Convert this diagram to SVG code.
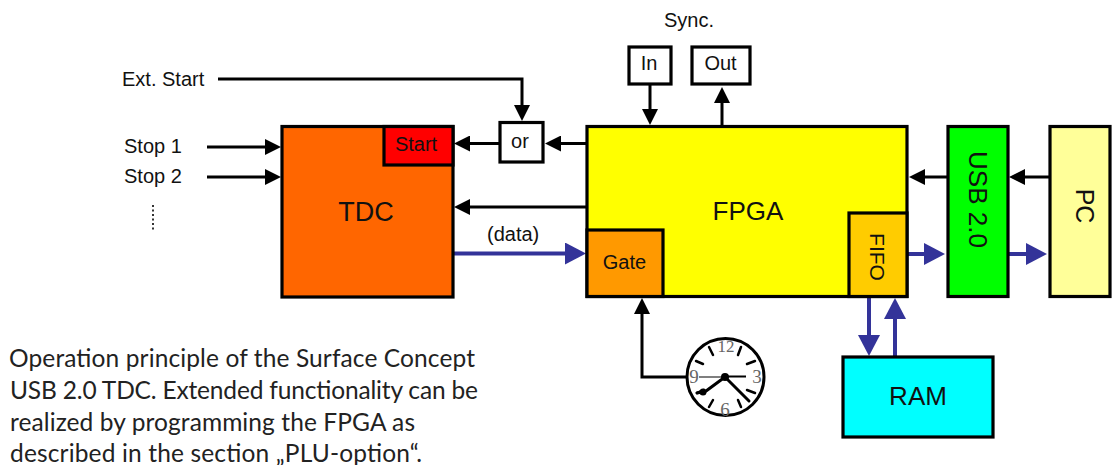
<svg xmlns="http://www.w3.org/2000/svg" width="1116" height="465" viewBox="0 0 1116 465">
<defs>
<marker id="ab" markerUnits="userSpaceOnUse" markerWidth="17" markerHeight="16" refX="8" refY="8" orient="auto"><path d="M0 0L16 8L0 16Z" fill="#000"/></marker>
<marker id="ub" markerUnits="userSpaceOnUse" markerWidth="22" markerHeight="22" refX="10" refY="11" orient="auto"><path d="M0 0L21 11L0 22Z" fill="#333399"/></marker>
</defs>
<style>
text{font-family:"Liberation Sans",Arial,sans-serif;fill:#111}
.b{stroke:#000;stroke-width:3.2}
.k{fill:none;stroke:#000;stroke-width:3;marker-end:url(#ab)}
.u{fill:none;stroke:#333399;stroke-width:4;marker-end:url(#ub)}
.l{font-size:20px}
.m{font-size:26px;text-anchor:middle}
.s{font-size:20px;text-anchor:middle}
.c{font-family:Lato,"Open Sans",sans-serif;font-size:24.5px;fill:#222}
.h{stroke:#000;stroke-width:3;stroke-linecap:round;fill:none}
.t{stroke:#000;stroke-width:2.5;stroke-linecap:round}
.n{font-family:"Liberation Serif",serif;font-size:19px;fill:#666;text-anchor:middle}
</style>
<g id="connectors">
<path class="k" d="M218 79H522V113"/>
<path class="k" d="M207 147H273"/>
<path class="k" d="M207 177H273"/>
<path class="k" d="M499 143.500H462"/>
<path class="k" d="M587 143.500H553"/>
<path class="k" d="M587 207H462"/>
<path class="k" d="M650 85V117"/>
<path class="k" d="M722 126V95"/>
<path class="k" d="M948 177H917"/>
<path class="k" d="M1050 177H1017"/>
<path class="k" d="M686 377H642V306"/>
<path class="u" d="M453 253.500H575"/>
<path class="u" d="M908 254H934"/>
<path class="u" d="M1008 254H1036"/>
<path class="u" d="M869 298V345"/>
<path class="u" d="M895 356V309"/>
</g>
<g id="tdc"><rect class="b" x="282" y="126.500" width="171" height="170.500" fill="#ff6600"/><text class="m" x="366" y="221" style="font-size:27px">TDC</text></g>
<g id="start"><rect class="b" x="384" y="126.500" width="69" height="38.500" fill="#ff0000"/><text class="s" x="416" y="151">Start</text></g>
<g id="or"><rect class="b" x="500" y="122.500" width="43" height="39.500" fill="#fff"/><text class="s" x="520" y="148">or</text></g>
<g id="fpga"><rect class="b" x="587" y="126.500" width="320" height="170" fill="#ffff00"/><text class="m" x="748" y="220">FPGA</text></g>
<g id="gate"><rect class="b" x="587" y="230" width="76" height="66.500" fill="#ff9900"/><text class="s" x="624.500" y="269">Gate</text></g>
<g id="fifo"><rect class="b" x="849" y="213" width="58" height="83.500" fill="#ffcc00"/><text class="s" transform="translate(870 257) rotate(90)" style="font-size:21px">FIFO</text></g>
<g id="usb"><rect class="b" x="948" y="126.500" width="60" height="170" fill="#00ff00"/><text class="m" transform="translate(969 199.500) rotate(90)">USB 2.0</text></g>
<g id="pc"><rect class="b" x="1050" y="126.500" width="60" height="170" fill="#ffff99"/><text class="m" transform="translate(1076 206) rotate(90)" style="font-size:25px">PC</text></g>
<g id="in"><rect class="b" x="629" y="47" width="42" height="37" fill="#fff"/><text class="s" x="649" y="70">In</text></g>
<g id="out"><rect class="b" x="692" y="47" width="58" height="37" fill="#fff"/><text class="s" x="720.500" y="70">Out</text></g>
<g id="ram"><rect class="b" x="843" y="357" width="150" height="80" fill="#00ffff"/><text class="m" x="918" y="405">RAM</text></g>
<g id="clock">
<circle cx="725.500" cy="377" r="38.500" fill="#fff" stroke="#000" stroke-width="3"/>
<path class="t" d="M709 347L713 355M741 347L738 355M696 361L703 364M755 361L747 364M697 393L704 390M755 393L747 390M709 407L713 400M741 407L738 400"/>
<text class="n" x="726" y="352" style="font-size:17px">12</text>
<text class="n" x="694" y="383">9</text>
<text class="n" x="757" y="383">3</text>
<text class="n" x="725" y="416">6</text>
<path d="M699 377H725" stroke="#555" stroke-width="1.500"/>
<path d="M725 376.500H746" stroke="#000" stroke-width="2"/>
<path class="h" d="M725 377L706 391L697 393M725 377L749 401"/>
<circle cx="725" cy="377" r="4" fill="#000"/>
<circle cx="703" cy="392" r="3.500" fill="#000"/>
</g>
<g id="labels">
<text class="l" x="122" y="86">Ext. Start</text>
<text class="l" x="124" y="153">Stop 1</text>
<text class="l" x="124" y="183">Stop 2</text>
<text class="l" x="487" y="241">(data)</text>
<text class="l" x="664" y="27">Sync.</text>
<path d="M153 205V232" stroke="#333" stroke-width="2" stroke-dasharray="2 2.500"/>
<text class="c" x="9" y="367" textLength="466">Operation principle of the Surface Concept</text>
<text class="c" x="10" y="399" textLength="468">USB 2.0 TDC. Extended functionality can be</text>
<text class="c" x="10" y="431" textLength="405">realized by programming the FPGA as</text>
<text class="c" x="10" y="462" textLength="412">described in the section „PLU-option“.</text>
</g>
</svg>
